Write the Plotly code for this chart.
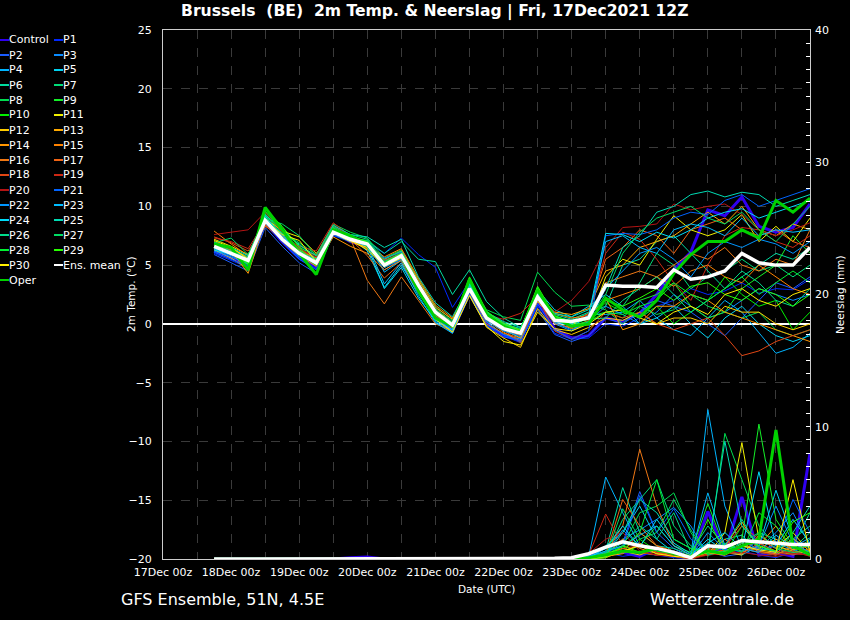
import plotly.graph_objects as go

# valid times of the 6-hourly forecast steps (12Z run)
times = [
    "2021-12-17 18:00",
    "2021-12-18 00:00", "2021-12-18 06:00", "2021-12-18 12:00", "2021-12-18 18:00",
    "2021-12-19 00:00", "2021-12-19 06:00", "2021-12-19 12:00", "2021-12-19 18:00",
    "2021-12-20 00:00", "2021-12-20 06:00", "2021-12-20 12:00", "2021-12-20 18:00",
    "2021-12-21 00:00", "2021-12-21 06:00", "2021-12-21 12:00", "2021-12-21 18:00",
    "2021-12-22 00:00", "2021-12-22 06:00", "2021-12-22 12:00", "2021-12-22 18:00",
    "2021-12-23 00:00", "2021-12-23 06:00", "2021-12-23 12:00", "2021-12-23 18:00",
    "2021-12-24 00:00", "2021-12-24 06:00", "2021-12-24 12:00", "2021-12-24 18:00",
    "2021-12-25 00:00", "2021-12-25 06:00", "2021-12-25 12:00", "2021-12-25 18:00",
    "2021-12-26 00:00", "2021-12-26 06:00", "2021-12-26 12:00",
]

tick_vals = [
    "2021-12-17 00:00", "2021-12-17 12:00", "2021-12-18 00:00", "2021-12-18 12:00",
    "2021-12-19 00:00", "2021-12-19 12:00", "2021-12-20 00:00", "2021-12-20 12:00",
    "2021-12-21 00:00", "2021-12-21 12:00", "2021-12-22 00:00", "2021-12-22 12:00",
    "2021-12-23 00:00", "2021-12-23 12:00", "2021-12-24 00:00", "2021-12-24 12:00",
    "2021-12-25 00:00", "2021-12-25 12:00", "2021-12-26 00:00", "2021-12-26 12:00",
]
tick_text = [
    "17Dec 00z", "", "18Dec 00z", "", "19Dec 00z", "", "20Dec 00z", "",
    "21Dec 00z", "", "22Dec 00z", "", "23Dec 00z", "", "24Dec 00z", "",
    "25Dec 00z", "", "26Dec 00z", "",
]

names = ["Control"] + ["P%d" % i for i in range(1, 31)] + ["Ens. mean", "Oper"]

colors = [
    "#3000f0",  # Control
    "#0028ff", "#1a5cff", "#0a8cff", "#00b4ff", "#00d2f0",  # P1-P5
    "#00dca0", "#00dc78", "#00dc50", "#14f028", "#00f000",  # P6-P10
    "#f0f000", "#ffcc00", "#ffaa00", "#ff9600", "#ff8200",  # P11-P15
    "#f07814", "#f06414", "#e04614", "#cc2814", "#b41414",  # P16-P20
    "#0064ff", "#0096ff", "#00bcff", "#00dcf8", "#00dcb4",  # P21-P25
    "#00dc8c", "#00dc64", "#00f032", "#28ff00", "#fff000",  # P26-P30
    "#ffffff",  # Ens. mean
    "#00d200",  # Oper
]

# 2m temperature (deg C), one row per entry in names
temp_rows = [
    [6.2, 5.6, 5.0, 8.6, 7.0, 5.6, 4.8, 7.8, 7.0, 6.6, 5.2, 5.9, 3.0, 0.6, -0.6, 2.6, 0.0, -1.0, -1.4, 1.8, -0.4, -1.2, -1.0,
     0.5, 0.2, 0.9, 2.5, 4.6, 6.1, 9.7, 9.2, 10.8, 8.3, 7.8, 8.2, 10.2],
    [6.0, 5.4, 4.8, 8.4, 7.0, 5.6, 4.7, 7.5, 7.0, 6.9, 6.0, 7.3, 5.9, 4.8, 1.4, 3.6, 0.2, -1.0, -1.6, 1.5, -0.8, -1.3, -1.2,
     0.0, -0.2, 0.5, 1.5, 2.0, 3.0, 2.5, 2.8, 3.5, 2.6, 3.0, 2.9, 3.8],
    [5.9, 5.2, 4.5, 8.2, 6.6, 5.2, 4.3, 7.6, 7.1, 6.5, 4.6, 5.5, 3.0, 0.4, -0.8, 2.4, -0.2, -1.1, -1.4, 1.2, -0.9, -1.5, -1.0,
     0.5, 0.0, 1.0, 2.0, 1.5, 1.0, 0.0, -1.0, 0.5, 2.0, 3.5, 3.0, 4.0],
    [6.3, 5.8, 5.1, 8.9, 7.1, 5.7, 5.0, 7.6, 7.0, 6.6, 5.4, 5.9, 3.2, 0.8, -0.4, 3.1, 0.4, -0.6, -1.0, 2.0, 0.0, -0.6, 0.2,
     1.5, 0.8, 0.0, 1.0, 2.5, 1.5, 0.5, 1.0, 2.0, 3.0, 2.5, 2.0, 2.5],
    [6.5, 6.0, 5.2, 9.0, 7.4, 6.1, 5.4, 7.8, 7.3, 7.0, 4.4, 5.4, 2.8, 0.2, -0.7, 2.8, 0.2, -0.9, -1.3, 2.2, 0.4, -0.3, 0.8,
     0.8, 1.0, 2.0, 0.5, -0.5, -1.0, 0.5, 2.0, 1.0, -0.8, -2.5, -2.0, -0.8],
    [6.4, 5.9, 5.5, 8.6, 7.5, 6.4, 5.6, 8.1, 7.4, 6.2, 3.1, 5.0, 2.6, 0.5, -0.3, 3.3, 0.9, 0.0, -0.4, 2.9, 1.2, 0.6, 1.5,
     2.5, 1.5, 0.0, 0.5, 1.5, 0.0, -1.2, 0.5, 1.5, 0.0, -1.0, -1.5, -1.0],
    [6.8, 6.3, 5.6, 9.1, 7.6, 6.3, 5.5, 8.0, 7.3, 7.1, 6.0, 7.0, 5.5, 5.3, 2.5, 4.6, 1.9, 0.5, -0.3, 2.6, 0.8, 0.4, 1.0,
     1.5, 5.0, 5.5, 7.0, 7.5, 6.0, 4.5, 3.0, 4.0, 5.0, 6.0, 5.5, 6.5],
    [7.0, 6.4, 5.7, 9.3, 7.7, 6.5, 5.8, 8.3, 7.6, 7.2, 5.3, 6.1, 3.6, 1.3, 0.2, 3.4, 0.8, 0.0, -0.6, 2.7, 0.6, 0.3, 0.9,
     2.0, 1.5, 3.5, 6.0, 5.0, 3.0, 4.0, 4.5, 5.5, 4.5, 5.0, 4.0, 5.0],
    [6.9, 6.2, 5.0, 9.2, 7.9, 6.9, 5.9, 8.5, 7.8, 7.3, 5.6, 6.3, 3.8, 1.5, 0.3, 3.5, 1.2, 0.6, 0.3, 4.4, 2.7, 1.5, 1.6,
     1.2, 0.0, 1.5, 0.8, 1.2, 2.5, 1.5, 1.0, 0.5, 1.0, -0.5, -1.0, -0.5],
    [6.7, 6.1, 5.2, 9.5, 8.2, 6.6, 5.4, 8.0, 7.4, 6.9, 5.2, 6.0, 3.5, 1.1, 0.0, 3.7, 0.9, -0.2, -0.7, 3.0, 0.7, 0.2, 0.6,
     1.0, 0.5, 2.0, 2.5, 3.5, 1.5, 0.5, 1.0, 3.0, 4.0, 5.0, 7.5, 6.0],
    [6.6, 6.0, 5.0, 9.4, 7.8, 6.2, 4.9, 8.1, 7.5, 6.9, 5.0, 5.7, 3.1, 0.8, -0.2, 3.6, 0.6, -0.3, -0.8, 2.8, 0.5, 0.0, 0.4,
     1.8, 1.0, 0.5, 1.5, 0.0, 1.0, 2.0, 4.0, 2.5, 1.5, 2.0, -0.5, 1.0],
    [7.2, 6.6, 5.9, 9.0, 7.9, 7.4, 6.0, 7.7, 7.0, 6.5, 4.8, 5.6, 3.3, 1.2, 0.1, 3.0, 0.6, -0.5, -1.2, 1.9, 0.2, 0.1, -0.1,
     4.0, 5.5, 5.0, 7.2, 9.2, 8.0, 7.5, 8.0, 9.3, 7.0, 8.3, 7.0, 9.0],
    [6.3, 5.6, 4.7, 8.6, 7.1, 5.9, 5.1, 7.8, 7.1, 6.7, 5.1, 5.8, 3.0, 0.6, -0.7, 2.5, -0.3, -1.2, -2.0, 1.3, -0.5, -0.9, -0.3,
     0.5, 0.3, 1.0, 0.0, 0.5, 0.5, 0.0, 1.5, 1.0, 1.0, 0.0, -0.5, 0.0],
    [6.8, 6.5, 5.6, 8.5, 7.2, 6.3, 5.3, 7.7, 7.1, 6.4, 5.5, 6.2, 3.7, 1.4, 0.4, 3.1, 0.7, -0.1, -0.5, 2.5, 1.0, 0.8, 1.3,
     4.5, 5.0, 6.5, 7.0, 7.5, 8.5, 9.5, 8.5, 10.0, 8.0, 7.5, 8.5, 8.0],
    [7.0, 6.2, 4.3, 8.7, 7.0, 5.8, 4.9, 7.4, 6.6, 6.0, 4.6, 5.4, 2.9, 0.9, -0.4, 2.7, 0.3, -0.7, -1.5, 2.1, 0.1, -0.4, 0.0,
     2.2, -0.5, 0.0, 1.5, 1.5, 2.5, 2.0, 1.0, 0.5, 0.0, -0.5, -1.0, -1.5],
    [7.9, 6.8, 5.8, 8.3, 7.4, 6.2, 5.6, 7.9, 7.3, 6.7, 5.7, 6.4, 3.9, 1.6, 0.5, 3.2, 0.9, 0.1, -0.6, 2.6, 0.9, 0.5, 0.7,
     2.0, 2.5, 3.0, 4.0, 3.2, 4.5, 5.0, 4.0, 3.5, 5.0, 4.0, 3.0, 2.5],
    [6.5, 6.0, 5.3, 8.6, 7.3, 6.0, 5.4, 7.6, 7.3, 3.7, 1.7, 4.0, 2.0, 0.0, -0.6, 2.6, 0.0, -0.8, -1.2, 2.0, 0.0, -0.3, 0.3,
     3.5, 4.0, 4.5, 4.0, 5.0, 6.0, 5.5, 6.5, 5.0, 4.5, 5.5, 5.0, 8.0],
    [6.7, 6.3, 5.4, 8.9, 7.5, 6.4, 5.6, 8.2, 7.2, 5.8, 3.9, 5.2, 2.7, 0.7, -0.3, 2.9, 0.4, -0.4, -1.0, 2.3, 0.3, 0.0, 0.9,
     5.5, 6.5, 8.0, 7.5, 6.0, 8.0, 8.5, 9.0, 8.0, 7.5, 8.0, 7.0, 6.5],
    [7.4, 6.9, 6.2, 8.4, 7.1, 6.1, 5.9, 8.4, 7.4, 6.9, 5.4, 6.0, 3.4, 1.0, -0.1, 3.1, 0.4, -0.5, -1.6, 2.2, -0.6, -1.3, -0.6,
     1.0, 0.5, 1.0, 0.0, -0.5, 0.0, 0.5, -1.0, -2.7, -2.3, -1.5, -1.0, -0.5],
    [7.3, 7.0, 6.4, 8.7, 7.3, 6.6, 6.2, 8.6, 7.5, 6.9, 5.1, 5.7, 3.2, 1.0, 0.0, 2.9, 0.7, 0.4, 0.9, 2.3, 0.5, 0.1, 0.8,
     6.0, 7.8, 7.2, 5.5, 3.5, 2.0, 5.0, 7.5, 8.2, 8.0, 7.0, 6.5, 7.5],
    [7.6, 7.8, 8.0, 9.5, 7.8, 6.4, 5.7, 8.3, 7.5, 6.6, 5.2, 5.9, 3.5, 1.2, 0.0, 3.0, 0.5, -0.2, -0.9, 2.2, 1.0, 2.0, 3.6,
     6.5, 8.2, 8.3, 8.5, 10.2, 9.7, 10.0, 10.2, 9.3, 8.0, 7.5, 8.0, 8.6],
    [6.1, 5.5, 4.9, 8.6, 7.0, 5.5, 4.6, 7.6, 7.2, 6.7, 5.6, 6.1, 3.1, 0.6, -0.5, 2.6, -0.1, -0.9, -1.5, 1.7, -0.5, -1.3, -0.6,
     7.5, 7.7, 7.6, 8.0, 9.0, 9.5, 9.3, 10.5, 11.0, 10.0, 10.5, 11.0, 11.5],
    [6.2, 5.7, 5.1, 8.8, 7.2, 5.8, 5.1, 7.7, 7.2, 6.8, 4.8, 5.5, 3.0, 0.5, -0.6, 2.9, 0.3, -0.6, -1.1, 2.1, 0.1, -0.5, 0.2,
     3.0, 4.5, 6.0, 6.5, 5.5, 4.0, 6.0, 7.0, 6.5, 7.2, 6.8, 6.0, 7.0],
    [6.4, 6.0, 5.4, 9.0, 7.6, 6.0, 5.3, 7.9, 7.3, 6.8, 3.4, 5.2, 2.4, 0.1, -0.8, 3.2, 0.5, -0.3, -0.8, 2.4, 0.2, -0.2, 0.6,
     7.0, 7.5, 6.5, 6.0, 8.0, 8.5, 8.2, 7.5, 9.0, 7.5, 8.0, 7.8, 8.0],
    [6.3, 5.9, 5.5, 9.2, 7.4, 6.2, 5.4, 8.0, 7.2, 6.6, 3.0, 4.8, 2.2, 0.3, -0.5, 3.4, 0.8, 0.0, -0.7, 2.6, 0.3, 0.0, 0.7,
     7.7, 7.6, 7.0, 7.8, 7.3, 8.0, 9.0, 9.5, 9.8, 9.0, 9.5, 10.0, 10.5],
    [6.9, 6.5, 5.8, 9.3, 8.0, 6.7, 5.8, 8.4, 7.6, 7.4, 6.5, 7.2, 4.0, 1.8, 0.6, 3.3, 1.0, 0.2, -0.3, 2.6, 0.9, 0.6, 1.2,
     3.0, 6.5, 7.5, 9.5, 10.0, 11.0, 11.3, 10.8, 11.2, 11.0, 10.0, 10.5, 11.0],
    [6.8, 6.2, 5.6, 8.9, 7.7, 6.8, 5.5, 8.2, 7.3, 7.0, 5.5, 6.2, 3.5, 1.1, 0.1, 3.5, 0.9, 0.0, -0.7, 2.5, 0.4, 0.1, 0.4,
     0.5, 2.0, 3.0, 4.0, 2.5, 1.0, 2.0, 3.0, 4.5, 3.5, 2.0, 1.5, 3.0],
    [6.9, 7.3, 5.9, 9.0, 8.5, 7.5, 5.8, 8.3, 7.4, 7.0, 5.3, 6.0, 3.4, 1.2, 0.0, 3.8, 1.0, 0.1, -0.5, 2.9, 0.6, 0.2, 0.5,
     2.5, 6.0, 7.8, 9.0, 9.5, 10.0, 9.0, 8.5, 9.5, 8.0, 7.0, 8.5, 10.0],
    [6.5, 6.0, 5.2, 9.6, 7.9, 6.3, 5.0, 8.0, 7.4, 6.9, 5.1, 5.8, 3.2, 0.9, -0.1, 3.9, 0.7, -0.2, -0.6, 3.1, 0.4, -0.1, 0.2,
     1.0, 0.8, 1.5, 2.0, 3.5, 2.5, 2.0, 3.0, 4.0, 2.5, 3.5, 4.5, 3.5],
    [6.6, 6.1, 5.1, 9.8, 8.3, 6.5, 5.0, 8.1, 7.5, 7.0, 5.2, 6.0, 3.4, 1.0, 0.0, 4.0, 1.1, 0.0, -0.5, 3.2, 0.7, 0.1, 0.4,
     2.0, 1.5, 2.2, 3.0, 2.0, 3.2, 3.5, 2.5, 2.0, 3.0, 2.5, 1.5, 2.5],
    [7.1, 6.5, 5.5, 8.8, 7.6, 7.1, 5.3, 7.9, 7.1, 6.3, 4.9, 5.6, 3.1, 0.4, -0.7, 2.4, -0.2, -1.5, -1.8, 1.0, -0.4, -0.6, 0.0,
     1.0, 1.2, 0.5, 0.0, 1.0, 1.5, 0.8, 2.5, 3.0, 2.0, 1.5, 2.5, 3.0],
    # Ens. mean
    [6.6, 6.0, 5.4, 8.8, 7.2, 6.0, 5.2, 7.8, 7.2, 6.8, 5.0, 5.8, 3.3, 1.0, -0.1, 3.0, 0.5, -0.4, -0.8, 2.3, 0.3, 0.2, 0.5,
     3.3, 3.2, 3.2, 3.1, 4.6, 3.8, 4.0, 4.5, 6.0, 5.2, 5.0, 5.0, 6.5],
    # Oper
    [6.8, 6.5, 4.6, 9.9, 8.0, 6.0, 4.2, 8.0, 7.5, 6.7, 5.0, 5.8, 2.8, 0.5, -0.2, 3.8, 0.8, -0.2, -0.8, 2.9, 0.5, -0.2, 0.0,
     2.2, 1.2, 0.6, 2.0, 4.3, 5.9, 7.0, 7.0, 8.0, 7.3, 10.5, 9.5, 10.7],
]

# precipitation per 6h (mm), same row order
precip_rows = [
    [0, 0, 0, 0, 0, 0, 0, 0, 0.1, 0.15, 0, 0, 0, 0, 0, 0, 0, 0, 0, 0, 0,
     0, 0, 0.3, 0.5, 0.2, 0.8, 0.4, 0.0, 3.6, 0.5, 4.7, 0.3, 0.5, 0.2, 8.0],
    [0, 0, 0, 0, 0, 0, 0, 0, 0.05, 0.1, 0, 0, 0, 0, 0, 0, 0, 0, 0, 0, 0,
     0, 0.1, 0.5, 0.2, 0.4, 0.3, 0.1, 0.0, 1.0, 0.4, 0.6, 0.3, 0.1, 0.5, 1.2],
    [0, 0, 0, 0, 0, 0, 0, 0, 0, 0, 0, 0, 0, 0, 0, 0, 0, 0, 0, 0, 0,
     0, 0.2, 0.8, 1.2, 5.1, 2.0, 0.8, 0.1, 0.6, 0.2, 0.4, 1.5, 0.8, 0.3, 0.6],
    [0, 0, 0, 0, 0, 0, 0, 0, 0, 0, 0, 0, 0, 0, 0, 0, 0, 0, 0, 0, 0,
     0, 0, 0.4, 1.5, 2.2, 3.0, 3.9, 2.5, 0.3, 0.5, 1.0, 0.8, 2.0, 3.5, 1.0],
    [0, 0, 0, 0, 0, 0, 0, 0, 0, 0, 0, 0, 0, 0, 0, 0, 0, 0, 0, 0, 0,
     0, 0.2, 6.2, 3.5, 1.0, 0.6, 0.3, 0.1, 11.3, 4.0, 0.8, 0.5, 1.2, 0.7, 0.3],
    [0, 0, 0, 0, 0, 0, 0, 0, 0, 0, 0, 0, 0, 0, 0, 0, 0, 0, 0, 0, 0,
     0, 0.3, 1.0, 2.0, 4.0, 1.5, 0.5, 0.2, 1.5, 0.6, 0.3, 1.0, 5.2, 1.5, 0.8],
    [0, 0, 0, 0, 0, 0, 0, 0, 0, 0, 0, 0, 0, 0, 0, 0, 0, 0, 0, 0, 0,
     0, 0.1, 0.6, 5.4, 2.0, 1.0, 0.8, 0.3, 0.5, 1.5, 1.8, 0.5, 0.3, 1.0, 3.5],
    [0, 0, 0, 0, 0, 0, 0, 0, 0, 0, 0, 0, 0, 0, 0, 0, 0, 0, 0, 0, 0,
     0, 0.1, 0.2, 3.0, 4.5, 6.0, 2.5, 1.0, 0.4, 1.2, 0.6, 2.0, 1.5, 0.8, 2.0],
    [0, 0, 0, 0, 0, 0, 0, 0, 0, 0, 0, 0, 0, 0, 0, 0, 0, 0, 0, 0, 0,
     0, 0, 0.3, 1.0, 3.5, 4.0, 5.0, 2.0, 0.2, 9.5, 6.0, 2.5, 1.0, 0.5, 1.5],
    [0, 0, 0, 0, 0, 0, 0, 0, 0, 0, 0, 0, 0, 0, 0, 0, 0, 0, 0, 0.05, 0.1,
     0, 0, 0.2, 0.5, 1.0, 2.5, 1.0, 0.5, 4.2, 0.8, 1.5, 10.2, 3.0, 1.0, 0.5],
    [0, 0, 0, 0, 0, 0, 0, 0, 0, 0, 0, 0, 0, 0, 0, 0, 0, 0, 0, 0, 0,
     0, 0.1, 0.2, 0.8, 1.5, 0.6, 0.3, 0.1, 0.5, 0.4, 2.5, 1.0, 0.5, 0.4, 0.8],
    [0, 0, 0, 0, 0, 0, 0, 0, 0, 0, 0, 0, 0, 0, 0, 0, 0, 0, 0, 0, 0,
     0, 0, 0.4, 0.8, 0.5, 0.3, 0.6, 0.2, 0.3, 2.0, 8.8, 1.5, 0.8, 2.0, 0.5],
    [0, 0, 0, 0, 0, 0, 0, 0, 0, 0, 0, 0, 0, 0, 0, 0, 0, 0, 0, 0, 0,
     0, 0, 0.1, 0.6, 0.3, 0.8, 0.5, 0.1, 0.7, 0.5, 0.3, 1.8, 1.0, 0.6, 0.4],
    [0, 0, 0, 0, 0, 0, 0, 0, 0, 0, 0, 0, 0, 0, 0, 0, 0, 0, 0, 0, 0,
     0, 0.1, 0.2, 0.4, 1.2, 0.5, 0.2, 0.0, 0.4, 1.0, 2.8, 0.8, 1.5, 0.7, 1.0],
    [0, 0, 0, 0, 0, 0, 0, 0, 0, 0, 0, 0, 0, 0, 0, 0, 0, 0, 0, 0, 0,
     0, 0, 0.3, 1.5, 0.8, 0.4, 0.2, 0.1, 0.6, 0.3, 1.2, 0.6, 0.4, 1.6, 0.3],
    [0, 0, 0, 0, 0, 0, 0, 0, 0, 0, 0, 0, 0, 0, 0, 0, 0, 0, 0, 0, 0,
     0, 0.1, 0.5, 0.5, 2.0, 1.0, 0.6, 0.2, 0.3, 1.5, 0.5, 1.0, 2.5, 0.5, 0.7],
    [0, 0, 0, 0, 0, 0, 0, 0, 0, 0, 0, 0, 0, 0, 0, 0, 0, 0, 0, 0, 0,
     0, 0, 0.4, 2.5, 8.3, 4.0, 1.0, 0.3, 0.4, 0.5, 1.0, 0.6, 0.3, 1.0, 0.5],
    [0, 0, 0, 0, 0, 0, 0, 0, 0, 0, 0, 0, 0, 0, 0, 0, 0, 0, 0, 0, 0,
     0, 0.1, 0.3, 4.5, 2.5, 1.0, 0.5, 0.2, 0.8, 0.6, 0.4, 1.2, 0.6, 0.3, 0.8],
    [0, 0, 0, 0, 0, 0, 0, 0, 0, 0, 0, 0, 0, 0, 0, 0, 0, 0, 0, 0, 0,
     0, 0, 0.2, 0.8, 1.0, 0.5, 0.3, 0.1, 0.5, 0.9, 2.5, 1.5, 0.8, 0.4, 0.3],
    [0, 0, 0, 0, 0, 0, 0, 0, 0, 0, 0, 0, 0, 0, 0, 0, 0, 0, 0, 0, 0,
     0, 0.3, 3.4, 1.0, 0.5, 0.3, 0.2, 0.1, 0.4, 0.3, 0.8, 0.5, 0.3, 0.6, 0.2],
    [0, 0, 0, 0, 0, 0, 0, 0, 0, 0, 0, 0, 0, 0, 0, 0, 0, 0, 0, 0, 0.05,
     0.05, 0.4, 1.5, 2.0, 0.6, 0.3, 0.2, 0.0, 0.3, 0.4, 0.5, 0.3, 0.2, 0.4, 0.3],
    [0, 0, 0, 0, 0, 0, 0, 0, 0, 0, 0, 0, 0, 0, 0, 0, 0, 0, 0, 0, 0,
     0, 0.2, 0.5, 1.0, 4.8, 2.0, 3.8, 1.5, 0.5, 0.8, 1.5, 0.6, 1.0, 4.5, 2.0],
    [0, 0, 0, 0, 0, 0, 0, 0, 0, 0, 0, 0, 0, 0, 0, 0, 0, 0, 0, 0, 0,
     0, 0.1, 0.4, 2.2, 1.0, 0.8, 0.6, 0.2, 2.0, 0.7, 0.6, 1.0, 4.0, 1.2, 0.5],
    [0, 0, 0, 0, 0, 0, 0, 0, 0, 0, 0, 0, 0, 0, 0, 0, 0, 0, 0, 0, 0,
     0, 0.2, 0.6, 1.0, 1.8, 2.5, 1.0, 0.3, 5.0, 1.0, 0.8, 0.5, 1.8, 0.9, 1.6],
    [0, 0, 0, 0, 0, 0, 0, 0, 0, 0, 0, 0, 0, 0, 0, 0, 0, 0, 0, 0, 0,
     0, 0.1, 0.8, 2.5, 0.9, 3.0, 1.2, 0.4, 1.2, 2.0, 0.8, 6.6, 1.0, 3.0, 1.2],
    [0, 0, 0, 0, 0, 0, 0, 0, 0, 0, 0, 0, 0, 0, 0, 0, 0, 0, 0, 0, 0,
     0, 0, 0.3, 2.0, 4.5, 3.5, 1.5, 0.8, 0.6, 8.9, 2.5, 1.0, 0.5, 2.0, 4.0],
    [0, 0, 0, 0, 0, 0, 0, 0, 0, 0, 0, 0, 0, 0, 0, 0, 0, 0, 0, 0, 0,
     0, 0.1, 0.5, 1.2, 2.5, 1.5, 3.5, 0.5, 2.5, 1.0, 3.0, 0.8, 0.6, 1.5, 2.5],
    [0, 0, 0, 0, 0, 0, 0, 0, 0, 0, 0, 0, 0, 0, 0, 0, 0, 0, 0, 0, 0,
     0, 0, 0.2, 3.8, 1.5, 2.0, 4.5, 2.2, 0.3, 0.6, 1.2, 2.0, 0.8, 0.5, 0.6],
    [0, 0, 0, 0, 0, 0, 0, 0, 0, 0, 0, 0, 0, 0, 0, 0, 0, 0, 0, 0, 0,
     0, 0.1, 0.4, 0.9, 2.0, 6.0, 1.5, 0.8, 0.4, 1.0, 0.5, 3.5, 2.5, 0.8, 1.0],
    [0, 0, 0, 0, 0, 0, 0, 0, 0, 0, 0, 0, 0, 0, 0, 0, 0, 0, 0, 0, 0,
     0, 0, 0.1, 1.0, 0.5, 0.8, 0.4, 0.2, 3.0, 0.5, 1.5, 1.0, 0.6, 2.8, 3.5],
    [0, 0, 0, 0, 0, 0, 0, 0, 0, 0, 0, 0, 0, 0, 0, 0, 0, 0, 0, 0, 0,
     0, 0, 0.2, 0.6, 1.0, 0.4, 0.2, 0.1, 0.5, 0.3, 1.0, 0.7, 0.5, 6.0, 0.5],
    # Ens. mean
    [0, 0, 0, 0, 0, 0, 0, 0, 0, 0, 0, 0, 0, 0, 0, 0, 0, 0, 0, 0, 0.05,
     0.1, 0.4, 0.9, 1.3, 1.0, 0.8, 0.5, 0.1, 1.0, 0.9, 1.4, 1.3, 1.2, 1.1, 1.1],
    # Oper
    [0, 0, 0, 0, 0, 0, 0, 0, 0, 0, 0, 0, 0, 0, 0, 0, 0, 0, 0, 0, 0.05,
     0, 0.1, 0.3, 0.6, 0.5, 0.8, 0.4, 0.2, 0.6, 0.4, 1.0, 1.5, 9.75, 1.0, 0.3],
]

FONT = "DejaVu Sans"
L, R, T, B = 163, 40, 30, 61
W, H = 850, 620
PW, PH = W - L - R, H - T - B


def px_x(px):
    return (px - L) / PW


def px_y(py):
    return (T + PH - py) / PH


def line_width(name):
    if name == "Ens. mean":
        return 3.5
    if name in ("Control", "Oper"):
        return 3
    return 1


def label(text, x, y, size, anchor="center", angle=0):
    return dict(
        x=px_x(x), y=px_y(y), xref="paper", yref="paper",
        text=text, showarrow=False, xanchor=anchor, yanchor="middle",
        textangle=angle, font=dict(family=FONT, size=size, color="white"),
    )


fig = go.Figure()

# Control underneath, then the members, then Oper and the mean on top
order = [0] + list(range(1, 31)) + [32, 31]
for i in order:
    fig.add_trace(go.Scatter(
        x=times, y=temp_rows[i], mode="lines", name=names[i],
        line=dict(color=colors[i], width=line_width(names[i])),
        showlegend=False, yaxis="y",
    ))
for i in order:
    fig.add_trace(go.Scatter(
        x=times, y=precip_rows[i], mode="lines", name=names[i],
        line=dict(color=colors[i], width=line_width(names[i])),
        showlegend=False, yaxis="y2",
    ))

# legend drawn by hand in two columns left of the plot
shapes = []
annotations = []
for i, (name, color) in enumerate(zip(names, colors)):
    row, col = divmod(i, 2)
    y = 40 + 15 * row
    x0 = 0 if col == 0 else 54
    shapes.append(dict(
        type="line", xref="paper", yref="paper",
        x0=px_x(x0), x1=px_x(x0 + 9), y0=px_y(y), y1=px_y(y),
        line=dict(color=color, width=2),
    ))
    annotations.append(label(name, x0 + 7, y, 11, anchor="left"))

annotations += [
    label("GFS Ensemble, 51N, 4.5E", 119, 599, 16, anchor="left"),
    label("Wetterzentrale.de", 796, 599, 16, anchor="right"),
    label("<b>Brussels\u00a0 (BE)\u00a0 2m Temp. &amp; Neerslag | Fri, 17Dec2021 12Z</b>", 435, 12, 15.6),
    label("2m Temp. (°C)", 131, 294, 10.5, angle=-90),
    label("Neerslag (mm)", 840, 294, 10.5, angle=-90),
    label("Date (UTC)", 486, 589, 10.5),
]

axis_font = dict(family=FONT, size=11, color="white")
grid = dict(showgrid=True, gridcolor="#3a3a3a", griddash="dash", gridwidth=1)

fig.update_layout(
    width=W, height=H,
    margin=dict(l=L, r=R, t=T, b=B),
    paper_bgcolor="black", plot_bgcolor="black",
    font=axis_font,
    shapes=shapes, annotations=annotations,
    xaxis=dict(
        type="date", range=["2021-12-17 00:00", "2021-12-26 12:00"],
        tickvals=tick_vals, ticktext=tick_text, tickfont=axis_font,
        ticks="", showline=True, linecolor="#cccccc", mirror=True,
        ticklabelstandoff=3, zeroline=False, **grid,
    ),
    yaxis=dict(
        range=[-20, 25], dtick=5, tickfont=axis_font, ticks="",
        ticklabelstandoff=8,
        showline=True, linecolor="#cccccc", mirror=True,
        zeroline=True, zerolinecolor="white", zerolinewidth=1.5,
        **grid,
    ),
    yaxis2=dict(
        range=[0, 40], dtick=10, overlaying="y", side="right",
        tickfont=axis_font, ticks="inside", ticklen=4, tickcolor="white",
        ticklabelstandoff=4,
        minor=dict(dtick=1, ticks="inside", ticklen=4, tickcolor="white"),
        showgrid=False, zeroline=False, showline=False,
    ),
)

fig.write_html(
    "out.html",
    config={"displayModeBar": False},
    post_script="document.body.style.margin='0px';",
)
